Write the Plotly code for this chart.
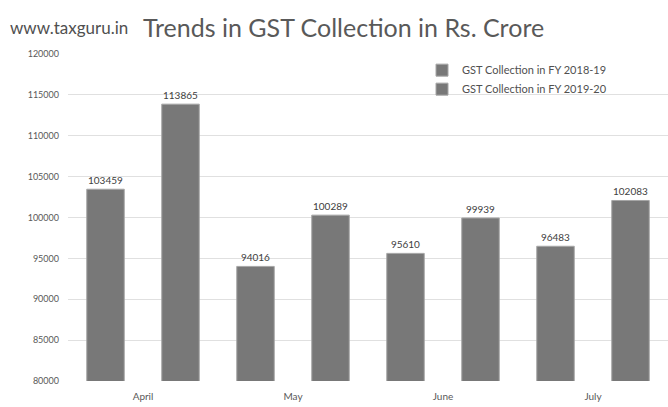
import plotly.graph_objects as go

months = ["April", "May", "June", "July"]
fy_2018_19 = [103459, 94016, 95610, 96483]
fy_2019_20 = [113865, 100289, 99939, 102083]
series_names = ["GST Collection in FY 2018-19", "GST Collection in FY 2019-20"]
y_ticks = list(range(80000, 120001, 5000))
y_tick_labels = [str(v) for v in y_ticks]

bar_color = "#787878"
edge_color = "#a6a6a6"
text_gray = "#595959"
font_family = "Lato, 'Open Sans', sans-serif"

fig = go.Figure()
for name, vals in zip(series_names, [fy_2018_19, fy_2019_20]):
    fig.add_trace(go.Bar(
        x=months, y=vals, name=name,
        marker=dict(color=bar_color, line=dict(color=edge_color, width=1)),
        text=[str(v) for v in vals], textposition="outside",
        textfont=dict(size=10, color="#404040", family=font_family),
        cliponaxis=False,
    ))

# site watermark to the left of the title
fig.add_annotation(
    text="www.taxguru.in", xref="paper", yref="paper",
    x=-60 / 600, y=1 + 27 / 327, xanchor="left", yanchor="middle",
    showarrow=False, font=dict(size=17, color="#505050", family=font_family),
)

fig.update_layout(
    width=668, height=407,
    margin=dict(l=68, r=0, t=54, b=26),
    paper_bgcolor="white", plot_bgcolor="white",
    barmode="group", bargap=0.0, bargroupgap=0.5,
    font=dict(family=font_family, color=text_gray),
    title=dict(
        text="Trends in GST Collection in Rs. Crore",
        x=143 / 668, xanchor="left", xref="container",
        y=1 - 28 / 407, yanchor="middle", yref="container",
        font=dict(size=25, color=text_gray, family=font_family),
    ),
    xaxis=dict(
        showgrid=False, showline=False, ticks="",
        tickfont=dict(size=10, color=text_gray), ticklabelstandoff=8,
    ),
    yaxis=dict(
        range=[80000, 120000], tickvals=y_ticks, ticktext=y_tick_labels,
        showgrid=True, gridcolor="#e0e0e0", gridwidth=1,
        zeroline=False, showline=False, ticks="",
        tickfont=dict(size=9, color=text_gray), ticklabelstandoff=8,
    ),
    legend=dict(
        x=0.59, y=0.995, xanchor="left", yanchor="top",
        font=dict(size=11, color="#505050"),
        bgcolor="rgba(0,0,0,0)", itemwidth=30, tracegroupgap=0,
    ),
)

fig.write_html("out.html")
